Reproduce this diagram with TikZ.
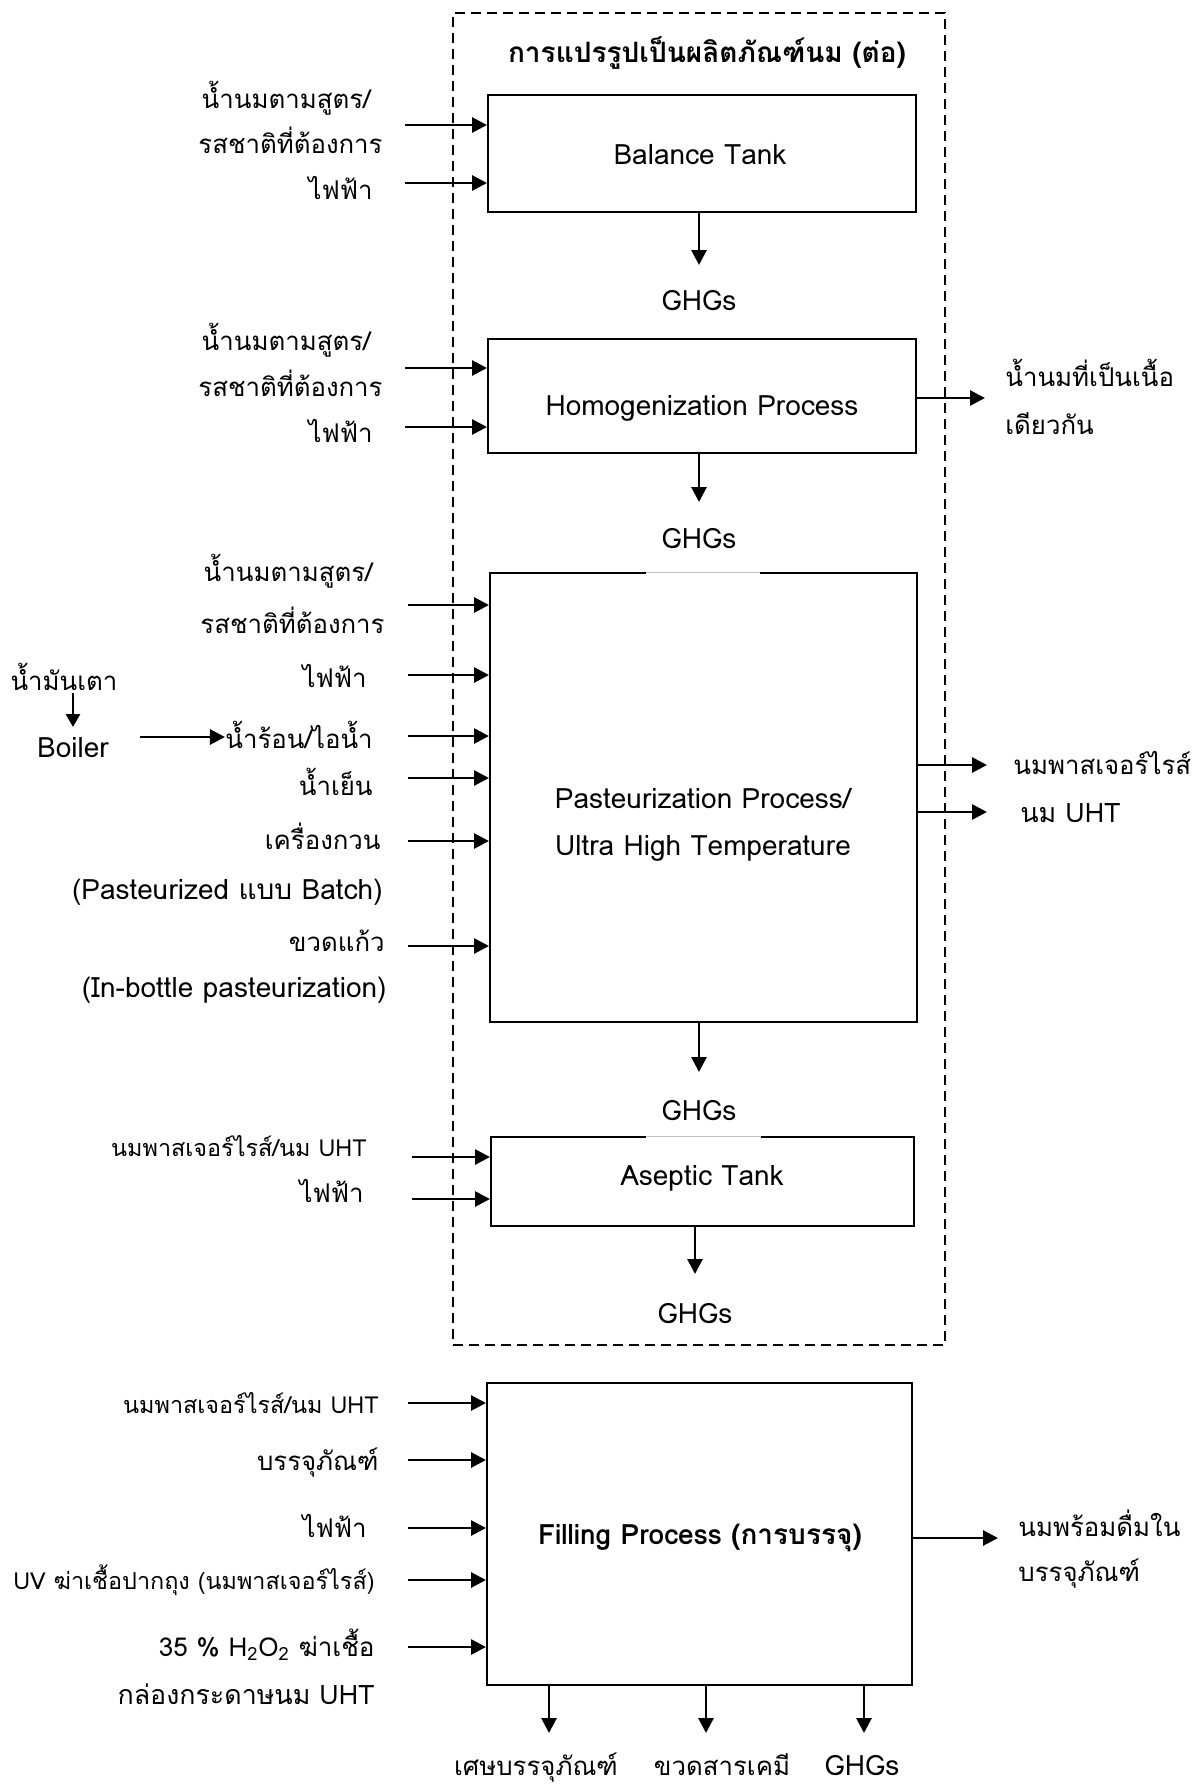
\documentclass[tikz,border=0pt]{standalone}
\usepackage{fontspec}
\setmainfont[Script=Thai]{Loma}
\usetikzlibrary{arrows.meta,calc}
\begin{document}
\begin{tikzpicture}[x=0.5pt,y=-0.5pt,
  box/.style={draw, line width=1pt, inner sep=0pt},
  arr/.style={line width=1.4pt, -{Triangle[length=7.5pt,width=7.5pt]}},
  lbl/.style={inner sep=0pt, font=\fontsize{14}{16}\selectfont},
  thl/.style={inner sep=0pt, font=\fontsize{12.9}{15}\selectfont},
  sml/.style={inner sep=0pt, font=\fontsize{11.7}{14}\selectfont},
  lr/.style={lbl, anchor=base east},
  lc/.style={lbl, anchor=base},
  tr/.style={thl, anchor=base east},
  tl/.style={thl, anchor=base west},
  tc/.style={thl, anchor=base},
  sr/.style={sml, anchor=base east}]
\useasboundingbox (0,0) rectangle (1200,1789);
% frame
\node[draw, dashed, dash pattern=on 5pt off 3pt, line width=0.8pt, minimum width=246pt, minimum height=666pt, inner sep=0pt] (frame) at (699,679) {};
\node[lc, font=\fontsize{14}{16}\selectfont\bfseries] (title) at (707,62) {การแปรรูปเป็นผลิตภัณฑ์นม (ต่อ)};
% boxes
\node[box, minimum width=214pt, minimum height=58.5pt] (bal) at (702,153.5) {};
\node[box, minimum width=214pt, minimum height=57pt] (hom) at (702,396) {};
\node[box, minimum width=213.5pt, minimum height=224.5pt] (pas) at (703.5,797.5) {};
\node[box, minimum width=211.5pt, minimum height=44.5pt] (ase) at (702.5,1181.5) {};
\node[box, minimum width=212.5pt, minimum height=151pt] (fil) at (699.5,1534) {};
% box texts
\node[lc] (balt) at (700,164) {Balance Tank};
\node[lc] (homt) at (702,415) {Homogenization Process};
\node[lc] (past1) at (703,808) {Pasteurization Process/};
\node[lc] (past2) at (703,855) {Ultra High Temperature};
\node[lc] (aset) at (702,1185) {Aseptic Tank};
\node[lc, font=\fontsize{14}{16}\selectfont\bfseries] (filt) at (700,1544) {Filling Process (การบรรจุ)};
% gaps on top edges
\draw[white, line width=1.6pt] ($(pas.north west)+(157,0)$) -- ($(pas.north west)+(271,0)$);
\draw[gray!50, line width=0.4pt] ($(pas.north west)+(157,0)$) -- ($(pas.north west)+(271,0)$);
\draw[white, line width=1.6pt] ($(ase.north west)+(156,0)$) -- ($(ase.north west)+(271,0)$);
\draw[gray!50, line width=0.4pt] ($(ase.north west)+(156,0)$) -- ($(ase.north west)+(271,0)$);
% GHGs
\node[lc] (g1) at (699,310) {GHGs};
\node[lc] (g2) at (699,548) {GHGs};
\node[lc] (g3) at (699,1120) {GHGs};
\node[lc] (g4) at (695,1323) {GHGs};
\coordinate (g1a) at (699,265);
\coordinate (g2a) at (699,502);
\coordinate (g3a) at (699,1072);
\coordinate (g4a) at (695,1274);
\draw[arr] (g1a |- bal.south) -- (g1a);
\draw[arr] (g2a |- hom.south) -- (g2a);
\draw[arr] (g3a |- pas.south) -- (g3a);
\draw[arr] (g4a |- ase.south) -- (g4a);
% group 1 inputs
\node[tr] (a1) at (371,108) {น้ำนมตามสูตร/};
\node[tr] (a2) at (383,153) {รสชาติที่ต้องการ};
\node[tr] (a3) at (373,199) {ไฟฟ้า};
\coordinate (ai1) at (405,125);
\coordinate (ai2) at (405,183);
\draw[arr] (ai1) -- (ai1 -| bal.west);
\draw[arr] (ai2) -- (ai2 -| bal.west);
% group 2 inputs
\node[tr] (b1) at (371,350) {น้ำนมตามสูตร/};
\node[tr] (b2) at (383,396) {รสชาติที่ต้องการ};
\node[tr] (b3) at (373,442) {ไฟฟ้า};
\coordinate (bi1) at (405,368);
\coordinate (bi2) at (405,427);
\draw[arr] (bi1) -- (bi1 -| hom.west);
\draw[arr] (bi2) -- (bi2 -| hom.west);
\node[tl] (ho1) at (1005,386) {น้ำนมที่เป็นเนื้อ};
\node[tl] (ho2) at (1005,434) {เดียวกัน};
\coordinate (bo) at (985,398);
\draw[arr] (bo -| hom.east) -- (bo);
% pasteurization inputs
\node[tr] (c1) at (373,581) {น้ำนมตามสูตร/};
\node[tr] (c2) at (385,633) {รสชาติที่ต้องการ};
\node[tr] (c3) at (367,687) {ไฟฟ้า};
\node[tr] (c4) at (373,748) {น้ำร้อน/ไอน้ำ};
\node[tr] (c5) at (373,795) {น้ำเย็น};
\node[tr] (c6) at (381,849) {เครื่องกวน};
\node[lr] (c7) at (383,899) {(Pasteurized แบบ Batch)};
\node[tr] (c8) at (385,951) {ขวดแก้ว};
\node[lr] (c9) at (387,997) {(In-bottle pasteurization)};
\node[tc] (oil) at (64,690) {น้ำมันเตา};
\node[lc] (boiler) at (73,757) {Boiler};
\coordinate (oa) at (73,693);
\coordinate (ob) at (73,727);
\draw[arr, -{Triangle[length=6.5pt,width=7pt]}] (oa) -- (ob);
\coordinate (bs) at (140,737);
\draw[arr] (bs) -- (bs -| c4.west);
\foreach \i/\y in {1/605,2/675,3/736,4/778,5/841,6/946}{
  \coordinate (ci\i) at (408,\y);
  \draw[arr] (ci\i) -- (ci\i -| pas.west);
}
\node[tl] (co1) at (1013,774) {นมพาสเจอร์ไรส์};
\node[tl, font=\fontsize{13.4}{15}\selectfont] (co2) at (1020,822) {นม UHT};
\coordinate (cq1) at (987,765);
\coordinate (cq2) at (987,812);
\draw[arr] (cq1 -| pas.east) -- (cq1);
\draw[arr] (cq2 -| pas.east) -- (cq2);
% aseptic inputs
\node[sr] (d1) at (367,1156) {นมพาสเจอร์ไรส์/นม UHT};
\node[tr] (d2) at (364,1202) {ไฟฟ้า};
\coordinate (di1) at (412,1157);
\coordinate (di2) at (412,1199);
\draw[arr] (di1) -- (di1 -| ase.west);
\draw[arr] (di2) -- (di2 -| ase.west);
% filling inputs
\node[sr] (e1) at (379,1413) {นมพาสเจอร์ไรส์/นม UHT};
\node[tr] (e2) at (379,1470) {บรรจุภัณฑ์};
\node[tr] (e3) at (367,1537) {ไฟฟ้า};
\node[sr] (e4) at (375,1589) {UV ฆ่าเชื้อปากถุง (นมพาสเจอร์ไรส์)};
\node[tr, font=\fontsize{13}{15}\selectfont] (e5) at (375,1656) {35 \% H\textsubscript{2}O\textsubscript{2} ฆ่าเชื้อ};
\node[tr, font=\fontsize{13.4}{15}\selectfont] (e6) at (375,1704) {กล่องกระดาษนม UHT};
\foreach \i/\y in {1/1403,2/1460,3/1528,4/1580,5/1647}{
  \coordinate (ei\i) at (408,\y);
  \draw[arr] (ei\i) -- (ei\i -| fil.west);
}
\node[tl] (eo1) at (1018,1536) {นมพร้อมดื่มใน};
\node[tl] (eo2) at (1018,1581) {บรรจุภัณฑ์};
\coordinate (eq) at (998,1538);
\draw[arr] (eq -| fil.east) -- (eq);
% filling outputs bottom
\node[tc] (f1) at (536,1775) {เศษบรรจุภัณฑ์};
\node[tc] (f2) at (722,1775) {ขวดสารเคมี};
\node[lc] (f3) at (862,1775) {GHGs};
\coordinate (fa1) at (549,1733);
\coordinate (fa2) at (706,1733);
\coordinate (fa3) at (864,1733);
\draw[arr] (fa1 |- fil.south) -- (fa1);
\draw[arr] (fa2 |- fil.south) -- (fa2);
\draw[arr] (fa3 |- fil.south) -- (fa3);
\end{tikzpicture}
\end{document}
